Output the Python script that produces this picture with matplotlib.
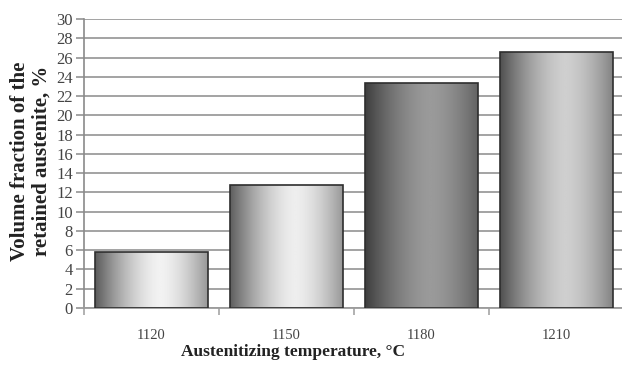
import numpy as np
import matplotlib
matplotlib.use("Agg")
import matplotlib.pyplot as plt
from matplotlib.colors import LinearSegmentedColormap

temperatures = ["1120", "1150", "1180", "1210"]
retained_austenite = [5.8, 12.8, 23.4, 26.6]
y_ticks = list(range(0, 31, 2))

# per-bar shading: (edge grey, highlight grey)
shades = [("#5a5a5a", "#f2f2f2"),
          ("#5e5e5e", "#eeeeee"),
          ("#3e3e3e", "#9a9a9a"),
          ("#505050", "#cfcfcf")]

plt.rcParams["font.family"] = ["Liberation Serif", "DejaVu Serif"]

fig = plt.figure(figsize=(6.22, 3.69), dpi=100)
ax = fig.add_axes([84 / 622, 1 - 308 / 369, 540 / 622, 289 / 369])

x = np.arange(len(temperatures))
bars = ax.bar(x, retained_austenite, width=0.83, facecolor="none",
              edgecolor="#2e2e2e", linewidth=1.2, zorder=3)

# cylinder-like horizontal gradient inside each bar
t = np.linspace(0, 1, 256)
profile = np.clip(1 - np.abs((t - 0.58) / 0.58) ** 1.6, 0, 1)
for rect, (dark, light) in zip(bars, shades):
    cmap = LinearSegmentedColormap.from_list("shade", [dark, light])
    x0 = rect.get_x()
    w = rect.get_width()
    h = rect.get_height()
    im = ax.imshow(profile[np.newaxis, :], cmap=cmap, vmin=0, vmax=1,
                   aspect="auto", extent=(x0, x0 + w, 0, h), zorder=2,
                   interpolation="bilinear")
    im.set_clip_path(rect)

ax.set_xlim(-0.5, len(temperatures) - 0.5)
ax.set_ylim(0, 30)
ax.set_yticks(y_ticks)
ax.set_xticks(x)
ax.set_xticklabels(temperatures)
ax.set_xticks(np.arange(-0.5, len(temperatures)), minor=True)

ax.yaxis.grid(True, color="#9c9c9c", linewidth=1.3, zorder=0)
ax.set_axisbelow(True)

for side in ("top", "right"):
    ax.spines[side].set_visible(False)
ax.spines["left"].set_color("#8a8a8a")
ax.spines["left"].set_linewidth(1.2)
ax.spines["bottom"].set_color("#9c9c9c")
ax.spines["bottom"].set_linewidth(1.3)

ax.tick_params(axis="y", length=6, width=1.1, color="#8a8a8a",
               labelsize=12, labelcolor="#444444", pad=2)
ax.tick_params(axis="x", which="major", length=0, labelsize=10.5,
               labelcolor="#444444", pad=15)
ax.tick_params(axis="x", which="minor", length=5, width=1.1, color="#9c9c9c")

fig.text(293 / 622, 1 - 352 / 369, "Austenitizing temperature, °C",
         ha="center", va="center", fontsize=12.5, fontweight="bold",
         color="#222222")
fig.text(31 / 622, 1 - 161 / 369, "Volume fraction of the\nretained austenite, %",
         ha="center", va="center", rotation=90, fontsize=15,
         fontweight="bold", color="#222222", linespacing=1.1)

fig.savefig("out.png", dpi=100)
